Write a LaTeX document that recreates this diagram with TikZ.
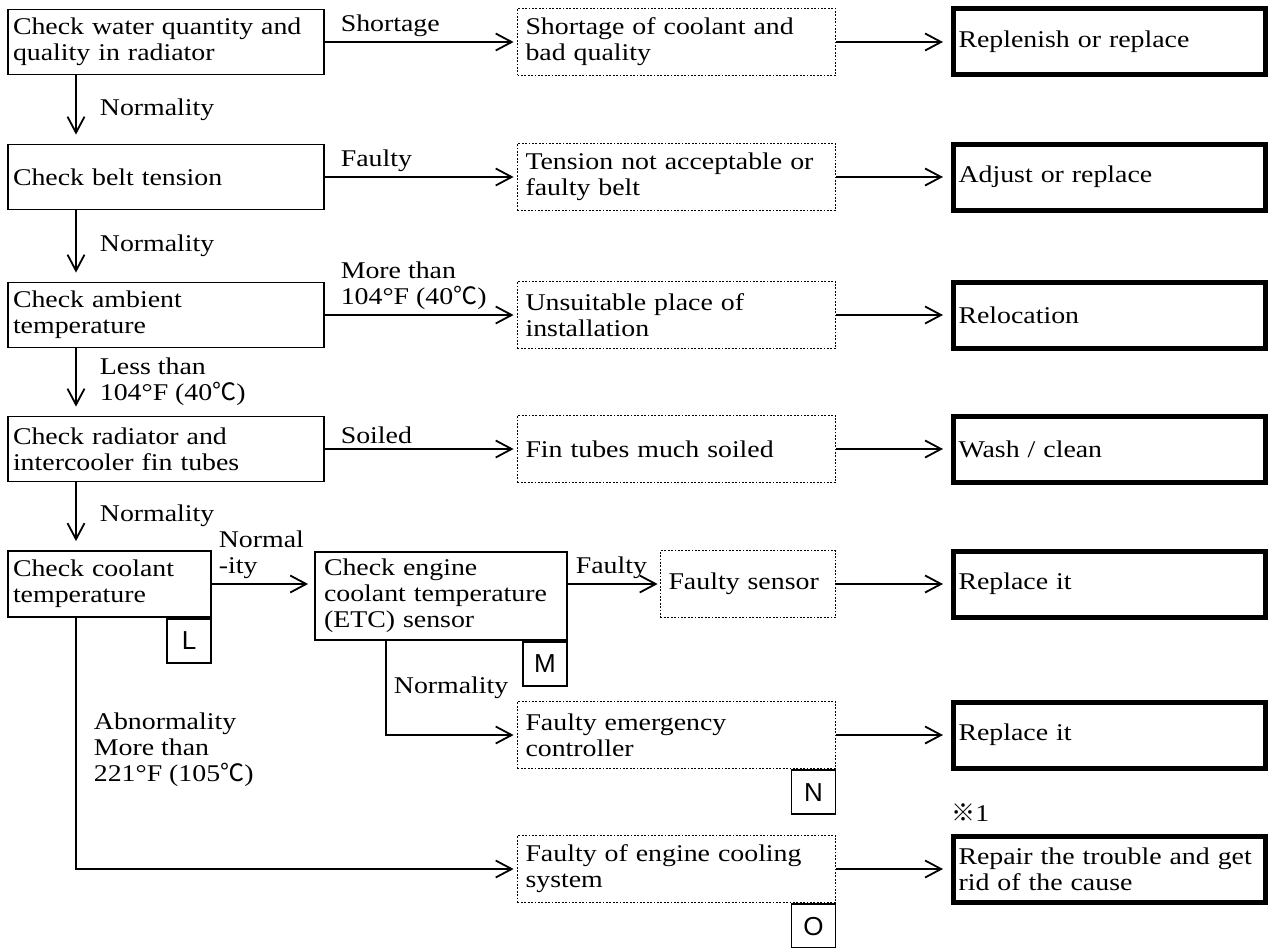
\documentclass[tikz,border=0pt]{standalone}
\usepackage{fontspec}
\setmainfont[FakeStretch=1.16]{Liberation Serif}
\newfontfamily\tagfont{Liberation Sans}
\newfontfamily\cjkfont{Noto Sans CJK JP}
\usetikzlibrary{arrows.meta, positioning}
\newcommand{\degC}{{\cjkfont ℃}}

\begin{document}
\begin{tikzpicture}[
        x=0.5pt, y=-0.5pt,
        every node/.style={font=\fontsize{12pt}{13pt}\selectfont},
        chk/.style={draw, line width=0.9pt, align=left, inner xsep=2.5pt, inner ysep=0pt, text width=153pt, minimum height=32.5pt},
        cause/.style={draw, dash pattern=on 0.9pt off 0.8pt, line width=0.9pt, align=left, inner xsep=4pt, inner ysep=0pt, text width=151pt, minimum height=33.5pt},
        fix/.style={draw, line width=2.5pt, align=left, inner xsep=2.5pt, inner ysep=0pt, text width=151pt, minimum height=33pt},
        tag/.style={draw, line width=0.9pt, font=\tagfont\fontsize{13pt}{13pt}\selectfont, minimum size=22pt, inner sep=0pt, anchor=north east},
        lbl/.style={align=left, inner sep=0pt},
        arr/.style={-{Straight Barb[length=8pt, width=8.5pt]}, line width=0.9pt},
        down/.style={arr, shorten >=4.5pt}
        ]
        \useasboundingbox (0,0) rectangle (1272,947);
        \coordinate (vx) at (76,0);
        \coordinate (vy) at (386,0);

        \node[chk] (A) at (166,42) {Check water quantity and\\quality in radiator};
        \node[chk] (B) at (166,177) {Check belt tension};
        \node[chk] (C) at (166,315) {Check ambient\\temperature};
        \node[chk] (D) at (166,449) {Check radiator and\\intercooler fin tubes};
        \node[chk, text width=96.5pt, minimum height=33pt] (E) at (109.5,584) {Check coolant\\temperature};
        \node[chk, text width=117pt, inner xsep=4.5pt, minimum height=44pt] (F) at (441,596) {Check engine\\coolant temperature\\(ETC) sensor};

        \node[cause] (S1) at (676.5,42) {Shortage of coolant and\\bad quality};
        \node[cause] (S2) at (676.5,177) {Tension not acceptable or\\faulty belt};
        \node[cause] (S3) at (676.5,315) {Unsuitable place of\\installation};
        \node[cause] (S4) at (676.5,449) {Fin tubes much soiled};
        \node[cause, text width=79.5pt] (S5) at (748,584) {Faulty sensor};
        \node[cause] (S6) at (676.5,735) {Faulty emergency\\controller};
        \node[cause] (S7) at (676.5,869) {Faulty of engine cooling\\system};

        \node[fix] (R1) at (1109.5,42) {Replenish or replace};
        \node[fix] (R2) at (1109.5,177) {Adjust or replace};
        \node[fix] (R3) at (1109.5,315) {Relocation};
        \node[fix] (R4) at (1109.5,449) {Wash / clean};
        \node[fix] (R5) at (1109.5,584) {Replace it};
        \node[fix] (R6) at (1109.5,735) {Replace it};
        \node[fix] (R7) at (1109.5,869) {Repair the trouble and get\\rid of the cause};
        \node[lbl, anchor=south west, yshift=6pt] (note) at (R7.north west) {{\cjkfont ※}1};

        \node[tag] (L) at (E.south east) {L};
        \node[tag] (M) at (F.south east) {M};
        \node[tag] (N) at (S6.south east) {N};
        \node[tag] (O) at (S7.south east) {O};

        \draw[down] (A.south -| vx) -- (B.north -| vx) node[lbl, midway, anchor=west, xshift=11.5pt] {Normality};
        \draw[down] (B.south -| vx) -- (C.north -| vx) node[lbl, midway, anchor=west, xshift=11.5pt] {Normality};
        \draw[down] (C.south -| vx) -- (D.north -| vx) node[lbl, midway, anchor=west, xshift=11.5pt] {Less than\\104°F (40\degC)};
        \draw[down] (D.south -| vx) -- (E.north -| vx) node[lbl, midway, anchor=west, xshift=11.5pt] {Normality};

        \draw[arr, shorten >=1.5pt] (A) -- (S1) node[lbl, pos=0, anchor=south west, xshift=7.5pt, yshift=2pt] {Shortage};
        \draw[arr, shorten >=1.5pt] (B) -- (S2) node[lbl, pos=0, anchor=south west, xshift=7.5pt, yshift=2pt] {Faulty};
        \draw[arr, shorten >=1.5pt] (C) -- (S3) node[lbl, pos=0, anchor=south west, xshift=7.5pt, yshift=2pt] {More than\\104°F (40\degC)};
        \draw[arr, shorten >=1.5pt] (D) -- (S4) node[lbl, pos=0, anchor=south west, xshift=7.5pt, yshift=2pt] {Soiled};

        \draw[arr, shorten >=3pt] (E.east) -- (E.east -| F.west) node[lbl, pos=0, anchor=south west, xshift=3pt, yshift=2pt] {Normal\\-ity};
        \draw[arr, shorten >=1pt] (S5.west -| F.east) -- (S5.west) node[lbl, pos=0, anchor=south west, xshift=3.5pt, yshift=2pt] {Faulty};
        \draw[arr, shorten >=1.5pt] (F.south -| vy) |- (S6.west) node[lbl, pos=0.25, anchor=west, xshift=3.5pt] {Normality};
        \draw[arr, shorten >=1.5pt] (E.south -| vx) |- (S7.west) node[lbl, pos=0.25, anchor=west, xshift=8.5pt, yshift=-3pt] {Abnormality\\More than\\221°F (105\degC)};

        \draw[arr, shorten >=4pt] (S1) -- (R1);
        \draw[arr, shorten >=4pt] (S2) -- (R2);
        \draw[arr, shorten >=4pt] (S3) -- (R3);
        \draw[arr, shorten >=4pt] (S4) -- (R4);
        \draw[arr, shorten >=4pt] (S5) -- (R5);
        \draw[arr, shorten >=4pt] (S6) -- (R6);
        \draw[arr, shorten >=4pt] (S7) -- (R7);
    \end{tikzpicture}
\end{document}
